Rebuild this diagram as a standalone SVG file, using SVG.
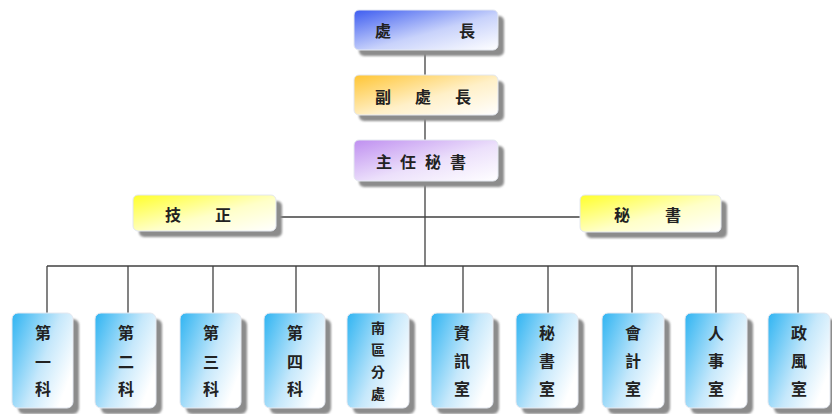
<svg xmlns="http://www.w3.org/2000/svg" width="832" height="414" viewBox="0 0 832 414">
<defs>
<linearGradient id="gBlue" x1="0" y1="0" x2="1" y2="1"><stop offset="0" stop-color="#3d5cf0"/><stop offset="0.55" stop-color="#c8d2fb"/><stop offset="1" stop-color="#ffffff"/></linearGradient>
<linearGradient id="gOrange" x1="0" y1="0" x2="1" y2="1"><stop offset="0" stop-color="#ffc533"/><stop offset="0.55" stop-color="#fff0c8"/><stop offset="1" stop-color="#ffffff"/></linearGradient>
<linearGradient id="gPurple" x1="0" y1="0" x2="1" y2="1"><stop offset="0" stop-color="#bf8ff0"/><stop offset="0.55" stop-color="#ece0fb"/><stop offset="1" stop-color="#ffffff"/></linearGradient>
<linearGradient id="gYellow" x1="0" y1="0" x2="1" y2="1"><stop offset="0" stop-color="#ffff2a"/><stop offset="0.55" stop-color="#ffffc8"/><stop offset="1" stop-color="#ffffff"/></linearGradient>
<linearGradient id="gCyan" x1="0" y1="0" x2="1" y2="0.6"><stop offset="0" stop-color="#2fb4f2"/><stop offset="0.6" stop-color="#c6e8fb"/><stop offset="1" stop-color="#ffffff"/></linearGradient>
<filter id="blur" x="-10%" y="-10%" width="130%" height="130%"><feGaussianBlur stdDeviation="1"/></filter>
</defs>
<style>
.sh{fill:#8c8c8c;filter:url(#blur)}
.bx{stroke:#e4e8f0;stroke-width:1}
.ln{stroke:#404040;stroke-width:1.3;fill:none}
text{font-family:"Noto Sans CJK TC","Noto Sans CJK SC",sans-serif;font-weight:bold;font-size:16px;fill:#222;text-anchor:middle;dominant-baseline:central}
.sm{font-size:14px}
</style>
<rect width="832" height="414" fill="#ffffff"/>
<g id="connectors">
<line class="ln" x1="425" y1="50" x2="425" y2="266"/>
<line class="ln" x1="276" y1="217" x2="580" y2="217"/>
<line class="ln" x1="47" y1="266" x2="798" y2="266"/>
<line class="ln" x1="47" y1="266" x2="47" y2="313"/>
<line class="ln" x1="128" y1="266" x2="128" y2="313"/>
<line class="ln" x1="213" y1="266" x2="213" y2="313"/>
<line class="ln" x1="296" y1="266" x2="296" y2="313"/>
<line class="ln" x1="379" y1="266" x2="379" y2="313"/>
<line class="ln" x1="463" y1="266" x2="463" y2="313"/>
<line class="ln" x1="548" y1="266" x2="548" y2="313"/>
<line class="ln" x1="632" y1="266" x2="632" y2="313"/>
<line class="ln" x1="716" y1="266" x2="716" y2="313"/>
<line class="ln" x1="798" y1="266" x2="798" y2="313"/>
</g>
<g id="n-chief">
<rect class="sh" x="359" y="16" width="145" height="40" rx="5"/>
<rect class="bx" x="354" y="10" width="144" height="40" rx="5" fill="url(#gBlue)"/>
<text y="30"><tspan x="383">處</tspan><tspan x="467">長</tspan></text>
</g>
<g id="n-deputy">
<rect class="sh" x="359" y="81" width="145" height="40" rx="5"/>
<rect class="bx" x="354" y="75" width="144" height="40" rx="5" fill="url(#gOrange)"/>
<text y="96"><tspan x="383">副</tspan><tspan x="423">處</tspan><tspan x="463">長</tspan></text>
</g>
<g id="n-secretary-general">
<rect class="sh" x="359" y="146" width="145" height="41" rx="5"/>
<rect class="bx" x="354" y="140" width="144" height="41" rx="5" fill="url(#gPurple)"/>
<text y="161"><tspan x="384">主</tspan><tspan x="408">任</tspan><tspan x="433">秘</tspan><tspan x="458">書</tspan></text>
</g>
<g id="n-engineer">
<rect class="sh" x="139" y="201" width="143" height="36" rx="5"/>
<rect class="bx" x="133" y="195" width="143" height="36" rx="5" fill="url(#gYellow)"/>
<text y="214"><tspan x="173">技</tspan><tspan x="223">正</tspan></text>
</g>
<g id="n-secretary">
<rect class="sh" x="586" y="201" width="141" height="37" rx="5"/>
<rect class="bx" x="580" y="195" width="141" height="37" rx="5" fill="url(#gYellow)"/>
<text y="214"><tspan x="622">秘</tspan><tspan x="673">書</tspan></text>
</g>
<g id="n-sec1">
<rect class="sh" x="18" y="319" width="61" height="95" rx="6"/>
<rect class="bx" x="12" y="313" width="61" height="95" rx="6" fill="url(#gCyan)"/>
<text><tspan x="43" y="332">第</tspan><tspan x="43" y="361">一</tspan><tspan x="43" y="388">科</tspan></text>
</g>
<g id="n-sec2">
<rect class="sh" x="101" y="319" width="61" height="95" rx="6"/>
<rect class="bx" x="95" y="313" width="61" height="95" rx="6" fill="url(#gCyan)"/>
<text><tspan x="126" y="332">第</tspan><tspan x="126" y="361">二</tspan><tspan x="126" y="388">科</tspan></text>
</g>
<g id="n-sec3">
<rect class="sh" x="186" y="319" width="61" height="95" rx="6"/>
<rect class="bx" x="180" y="313" width="61" height="95" rx="6" fill="url(#gCyan)"/>
<text><tspan x="211" y="332">第</tspan><tspan x="211" y="361">三</tspan><tspan x="211" y="388">科</tspan></text>
</g>
<g id="n-sec4">
<rect class="sh" x="270" y="319" width="61" height="95" rx="6"/>
<rect class="bx" x="264" y="313" width="61" height="95" rx="6" fill="url(#gCyan)"/>
<text><tspan x="295" y="332">第</tspan><tspan x="295" y="361">四</tspan><tspan x="295" y="388">科</tspan></text>
</g>
<g id="n-south">
<rect class="sh" x="353" y="319" width="62" height="95" rx="6"/>
<rect class="bx" x="347" y="313" width="62" height="95" rx="6" fill="url(#gCyan)"/>
<text class="sm"><tspan x="378" y="327">南</tspan><tspan x="378" y="349">區</tspan><tspan x="378" y="371">分</tspan><tspan x="378" y="393">處</tspan></text>
</g>
<g id="n-info">
<rect class="sh" x="437" y="319" width="62" height="95" rx="6"/>
<rect class="bx" x="431" y="313" width="62" height="95" rx="6" fill="url(#gCyan)"/>
<text><tspan x="462" y="332">資</tspan><tspan x="462" y="360">訊</tspan><tspan x="462" y="388">室</tspan></text>
</g>
<g id="n-secoffice">
<rect class="sh" x="522" y="319" width="62" height="95" rx="6"/>
<rect class="bx" x="516" y="313" width="62" height="95" rx="6" fill="url(#gCyan)"/>
<text><tspan x="547" y="332">秘</tspan><tspan x="547" y="360">書</tspan><tspan x="547" y="388">室</tspan></text>
</g>
<g id="n-accounting">
<rect class="sh" x="608" y="319" width="62" height="95" rx="6"/>
<rect class="bx" x="602" y="313" width="62" height="95" rx="6" fill="url(#gCyan)"/>
<text><tspan x="633" y="332">會</tspan><tspan x="633" y="360">計</tspan><tspan x="633" y="388">室</tspan></text>
</g>
<g id="n-personnel">
<rect class="sh" x="691" y="319" width="62" height="95" rx="6"/>
<rect class="bx" x="685" y="313" width="62" height="95" rx="6" fill="url(#gCyan)"/>
<text><tspan x="716" y="332">人</tspan><tspan x="716" y="360">事</tspan><tspan x="716" y="388">室</tspan></text>
</g>
<g id="n-ethics">
<rect class="sh" x="774" y="319" width="62" height="95" rx="6"/>
<rect class="bx" x="768" y="313" width="62" height="95" rx="6" fill="url(#gCyan)"/>
<text><tspan x="799" y="332">政</tspan><tspan x="799" y="360">風</tspan><tspan x="799" y="388">室</tspan></text>
</g>
</svg>
